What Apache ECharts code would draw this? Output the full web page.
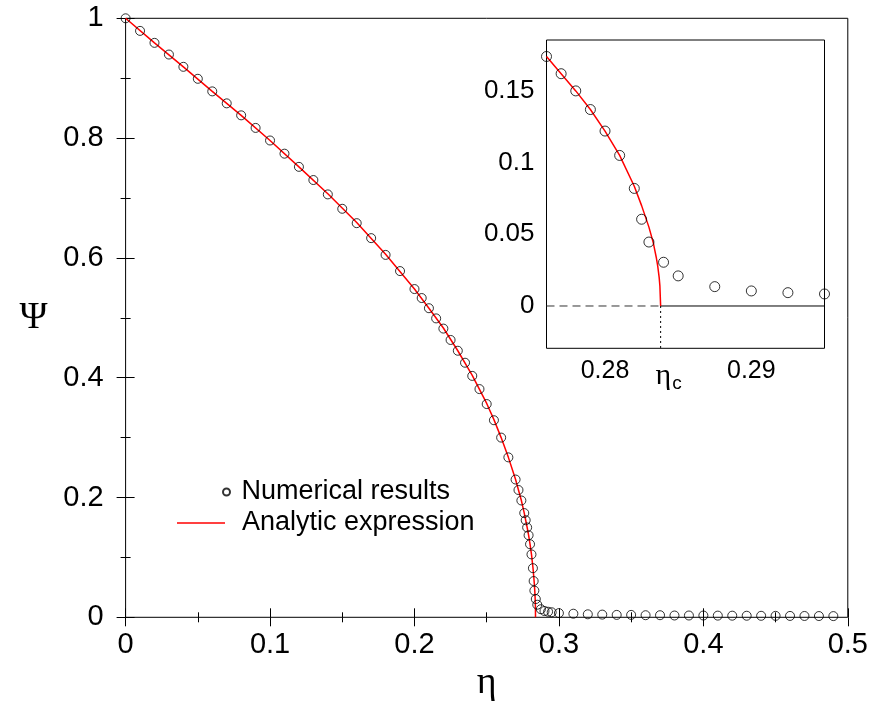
<!DOCTYPE html>
<html>
<head>
<meta charset="utf-8">
<script src="https://cdn.jsdelivr.net/npm/echarts@6/dist/echarts.min.js"></script>
<style>
html,body{margin:0;padding:0;background:#fff;}
#c{width:872px;height:702px;}
</style>
</head>
<body>
<div id="c"></div>
<script>
// ---- Numerical results ----
const numEta = [0,0.01,0.02,0.03,0.04,0.05,0.06,0.07,0.08,0.09,0.10,0.11,0.12,0.13,0.14,0.15,0.16,0.17,0.18,0.19,0.20,
  0.205,0.21,0.215,0.22,0.225,0.23,0.235,0.24,0.245,0.25,0.255,0.26,0.265,0.27,0.272,0.274,
  0.276,0.277,0.278,0.279,0.280,0.281,0.282,0.2825,0.283,0.284,0.285,0.2875,0.29,0.2925,0.295,
  0.30,0.31,0.32,0.33,0.34,0.35,0.36,0.37,0.38,0.39,0.40,0.41,0.42,0.43,0.44,0.45,0.46,0.47,0.48,0.49];
const numPsi = [1,0.979,0.959,0.9395,0.919,0.899,0.878,0.858,0.838,0.817,0.796,0.774,0.752,0.730,0.706,0.682,0.658,0.633,0.605,0.578,0.548,
  0.533,0.516,0.499,0.482,0.463,0.445,0.425,0.403,0.381,0.356,0.329,0.300,0.267,0.230,0.2125,0.195,
  0.174,0.162,0.150,0.137,0.122,0.105,0.082,0.0605,0.0446,0.0305,0.021,0.0135,0.0105,0.0093,0.0084,
  0.007,0.006,0.005,0.0045,0.004,0.004,0.0035,0.0035,0.003,0.003,0.003,0.0028,0.0027,0.0026,0.0025,0.0024,0.0023,0.0022,0.0021,0.002];

// ---- Analytic expression (curve) ----
const anEta = [0,0.02,0.04,0.06,0.08,0.10,0.12,0.14,0.16,0.18,0.20,0.21,0.22,0.23,0.24,0.25,0.255,0.26,0.265,0.27,0.274,
  0.276,0.277,0.278,0.279,0.280,0.281,0.282,0.2825,0.283,0.2833,0.2834,0.2835,0.2836,0.2837,0.28375,0.2838];
const anPsi = [1,0.959,0.919,0.878,0.838,0.796,0.752,0.707,0.659,0.606,0.548,0.516,0.483,0.445,0.404,0.357,0.330,0.300,0.267,0.230,0.195,
  0.174,0.162,0.150,0.137,0.122,0.105,0.0835,0.070,0.055,0.044,0.039,0.034,0.028,0.020,0.014,0];

// ---- Axis ticks / labels ----
const mainXTicks = {min:0, max:0.5, interval:0.1};
const mainYTicks = {min:0, max:1, interval:0.2};
const insetXRange = [0.276, 0.295];
const insetYRange = [-0.0295, 0.1855];
const insetXTickValues = [0.28, 0.285, 0.29];
const insetXLabelValues = [0.28, 0.2838, 0.29];
const insetYTickValues = [0, 0.05, 0.1, 0.15];
const etaC = 0.2838;

const pair = (xs, ys) => xs.map((x, i) => [x, ys[i]]);
const inRange = (arr) => arr.filter(p => p[0] >= insetXRange[0] - 1e-9 && p[0] <= insetXRange[1] + 1e-9);

const numData = pair(numEta, numPsi);
const anData = pair(anEta, anPsi);

const SANS = 'Liberation Sans';
const SERIF = 'Liberation Serif';

const chart = echarts.init(document.getElementById('c'), null, {renderer:'canvas'});

const mainTick = {show:true, inside:true, length:9, lineStyle:{color:'#000', width:1}};
const mainMinor = {show:true, splitNumber:2, length:5, lineStyle:{color:'#000', width:1}};

const option = {
  backgroundColor:'#fff',
  animation:false,
  grid:[
    {left:125.6, top:18.3, width:722.2, height:599, outerBoundsMode:'none', containLabel:false,
      show:true, borderColor:'#000', borderWidth:1, backgroundColor:'transparent', z:0},
    {left:546.5, top:40, width:278, height:308.3, outerBoundsMode:'none', containLabel:false,
      show:true, borderColor:'#000', borderWidth:1, backgroundColor:'#fff', z:5}
  ],
  legend:[
    {
      data:['Numerical results'], left:222, top:477, orient:'vertical', padding:0,
      itemWidth:16, itemHeight:7, icon:'circle',
      textStyle:{fontFamily:SANS, fontSize:27, lineHeight:30, color:'#000', padding:[0,0,0,2]},
      selectedMode:false
    },
    {
      data:[{name:'Analytic expression', icon:'rect', itemStyle:{color:'#ff0000'}}], left:177, top:508, orient:'vertical', padding:0,
      itemWidth:48, itemHeight:1.5,
      textStyle:{fontFamily:SANS, fontSize:27, lineHeight:30, color:'#000', padding:[0,0,0,12]},
      selectedMode:false
    }
  ],
  xAxis:[
    {gridIndex:0, type:'value', position:'bottom', min:mainXTicks.min, max:mainXTicks.max, interval:mainXTicks.interval,
      axisLine:{show:false}, axisTick:mainTick, minorTick:mainMinor, splitLine:{show:false}, minorSplitLine:{show:false},
      axisLabel:{fontFamily:SANS, fontSize:29, color:'#000', margin:13},
      name:'η', nameLocation:'middle', nameGap:45, nameTextStyle:{fontFamily:SERIF, fontSize:38, color:'#000'}},
    {gridIndex:0, type:'value', position:'top', min:mainXTicks.min, max:mainXTicks.max, interval:mainXTicks.interval,
      axisLine:{show:false}, axisTick:mainTick, minorTick:mainMinor, splitLine:{show:false}, axisLabel:{show:false}},
    {gridIndex:1, type:'value', position:'bottom', min:insetXRange[0], max:insetXRange[1],
      axisLine:{show:false}, splitLine:{show:false},
      axisTick:{show:true, inside:true, length:9, customValues:insetXTickValues, lineStyle:{color:'#000'}},
      axisLabel:{show:true, customValues:insetXLabelValues, fontFamily:SANS, fontSize:25, color:'#000', margin:10,
        formatter:function(v){ return Math.abs(v-etaC) < 1e-6 ? '{e|η}{s|c}' : String(v); },
        rich:{e:{fontFamily:SERIF, fontSize:30, color:'#000', padding:[0,0,0,16]}, s:{fontFamily:SANS, fontSize:19, color:'#000', padding:[16,0,0,1]}}}},
    {gridIndex:1, type:'value', position:'top', min:insetXRange[0], max:insetXRange[1],
      axisLine:{show:false}, splitLine:{show:false},
      axisTick:{show:true, inside:true, length:9, customValues:insetXTickValues, lineStyle:{color:'#000'}},
      axisLabel:{show:false, customValues:insetXTickValues}}
  ],
  yAxis:[
    {gridIndex:0, type:'value', position:'left', min:mainYTicks.min, max:mainYTicks.max, interval:mainYTicks.interval,
      axisLine:{show:false}, axisTick:mainTick, minorTick:mainMinor, splitLine:{show:false}, minorSplitLine:{show:false},
      axisLabel:{fontFamily:SANS, fontSize:29, color:'#000', margin:22},
      name:'Ψ', nameLocation:'middle', nameRotate:0, nameGap:78,
      nameTextStyle:{fontFamily:SERIF, fontSize:38, color:'#000', padding:[0,0,6,0]}},
    {gridIndex:0, type:'value', position:'right', min:mainYTicks.min, max:mainYTicks.max, interval:mainYTicks.interval,
      axisLine:{show:false}, axisTick:mainTick, minorTick:mainMinor, splitLine:{show:false}, axisLabel:{show:false}},
    {gridIndex:1, type:'value', position:'left', min:insetYRange[0], max:insetYRange[1],
      axisLine:{show:false}, splitLine:{show:false},
      axisTick:{show:true, inside:true, length:9, customValues:insetYTickValues, lineStyle:{color:'#000'}},
      axisLabel:{show:true, customValues:insetYTickValues, fontFamily:SANS, fontSize:26, color:'#000', margin:12,
        formatter:function(v){ return String(v); }}},
    {gridIndex:1, type:'value', position:'right', min:insetYRange[0], max:insetYRange[1],
      axisLine:{show:false}, splitLine:{show:false},
      axisTick:{show:true, inside:true, length:9, customValues:insetYTickValues, lineStyle:{color:'#000'}},
      axisLabel:{show:false, customValues:insetYTickValues}}
  ],
  series:[
    {name:'Analytic expression', type:'line', xAxisIndex:0, yAxisIndex:0, data:anData, showSymbol:false, symbol:'none',
      lineStyle:{color:'#ff0000', width:1.5}, itemStyle:{color:'#ff0000'}, z:3, clip:false},
    {name:'Numerical results', type:'scatter', xAxisIndex:0, yAxisIndex:0, data:numData, symbol:'circle', symbolSize:9,
      itemStyle:{color:'rgba(0,0,0,0)', borderColor:'#000', borderWidth:1}, z:4, clip:false},
    // inset
    {name:'zeroDashed', type:'line', xAxisIndex:2, yAxisIndex:2, data:[[insetXRange[0],0],[etaC,0]], showSymbol:false, symbol:'none',
      lineStyle:{color:'#333', width:1, type:[8,5]}, z:6},
    {name:'zeroSolid', type:'line', xAxisIndex:2, yAxisIndex:2, data:[[etaC,0],[insetXRange[1],0]], showSymbol:false, symbol:'none',
      lineStyle:{color:'#000', width:1}, z:6},
    {name:'etaCMark', type:'line', xAxisIndex:2, yAxisIndex:2, data:[[etaC,0],[etaC,insetYRange[0]]], showSymbol:false, symbol:'none',
      lineStyle:{color:'#000', width:1, type:[2,3]}, z:6},
    {name:'Analytic expression', type:'line', xAxisIndex:2, yAxisIndex:2, data:inRange(anData), showSymbol:false, symbol:'none',
      lineStyle:{color:'#ff0000', width:1.5}, itemStyle:{color:'#ff0000'}, z:7, clip:false},
    {name:'Numerical results', type:'scatter', xAxisIndex:2, yAxisIndex:2, data:inRange(numData), symbol:'circle', symbolSize:10,
      itemStyle:{color:'rgba(0,0,0,0)', borderColor:'#000', borderWidth:1}, z:8, clip:false}
  ]
};
chart.setOption(option);
</script>
</body>
</html>
